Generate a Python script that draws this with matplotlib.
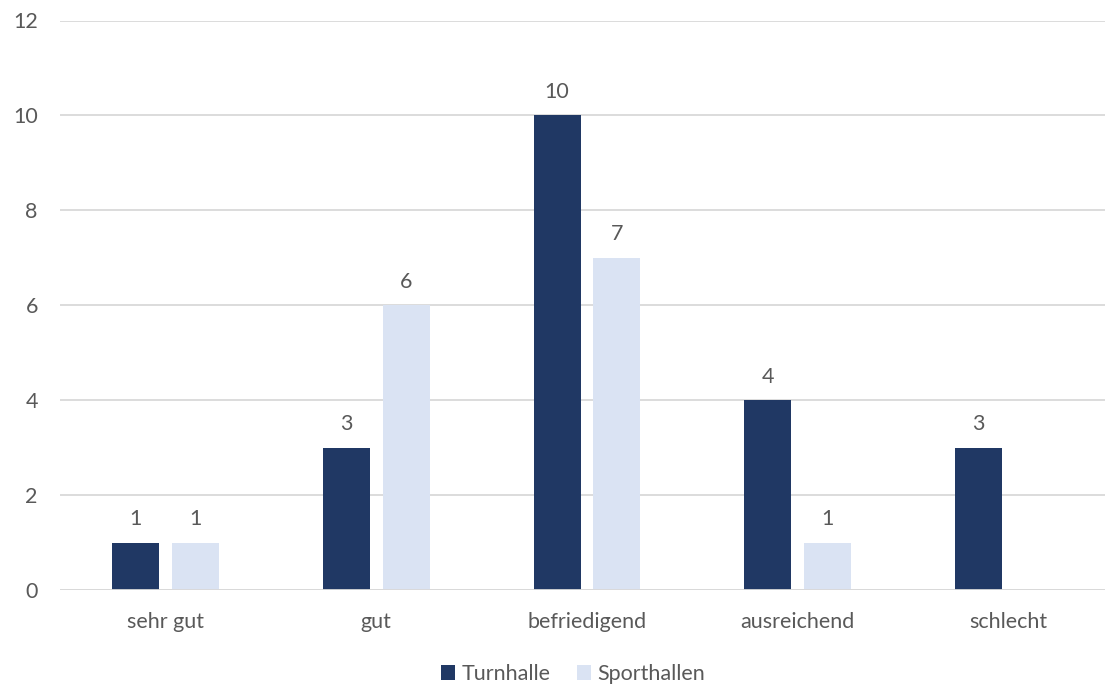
import matplotlib.pyplot as plt
import numpy as np

categories = ['sehr gut', 'gut', 'befriedigend', 'ausreichend', 'schlecht']
turnhalle = [1, 3, 10, 4, 3]
sporthallen = [1, 6, 7, 1, None]
y_ticks = [0, 2, 4, 6, 8, 10, 12]

dark = '#203864'
light = '#DAE3F3'
text_col = '#595959'
grid_col = '#D9D9D9'
fs = 15.5

plt.rcParams['font.family'] = ['Lato', 'DejaVu Sans']

fig = plt.figure(figsize=(11.05, 6.88), dpi=100)
ax = fig.add_axes([60 / 1105, 98 / 688, 1054 / 1105, (590 - 20.5) / 688])

x = np.arange(len(categories))
width = 0.223
offset = 0.142

# Draw series, skipping empty values
for vals, off, col, name in [(turnhalle, -offset, dark, 'Turnhalle'),
                             (sporthallen, offset, light, 'Sporthallen')]:
    xs = [xi + off for xi, v in zip(x, vals) if v is not None]
    hs = [v for v in vals if v is not None]
    bars = ax.bar(xs, hs, width, color=col, label=name, zorder=3)
    for b, v in zip(bars, hs):
        ax.annotate(str(v), (b.get_x() + b.get_width() / 2, v),
                    xytext=(0, 12.5), textcoords='offset points',
                    ha='center', va='baseline', fontsize=fs, color=text_col)

ax.set_xlim(-0.5, len(categories) - 0.5)
ax.set_ylim(0, 12)
ax.set_yticks(y_ticks)
ax.set_xticks(x)
ax.set_xticklabels(categories)
ax.tick_params(axis='both', length=0, labelsize=fs, labelcolor=text_col)
ax.tick_params(axis='y', pad=16)
ax.tick_params(axis='x', pad=16)
ax.yaxis.grid(True, color=grid_col, linewidth=1.3, zorder=0)
for s in ax.spines.values():
    s.set_visible(False)
ax.axhline(0, color=grid_col, linewidth=1.3, zorder=4)

fig.legend(loc='center', bbox_to_anchor=(573 / 1105, 14 / 688), ncol=2,
           frameon=False, fontsize=fs, labelcolor=text_col,
           handlelength=0.65, handleheight=0.65, handletextpad=0.3,
           columnspacing=1.2)

fig.savefig('out.png', dpi=100)
